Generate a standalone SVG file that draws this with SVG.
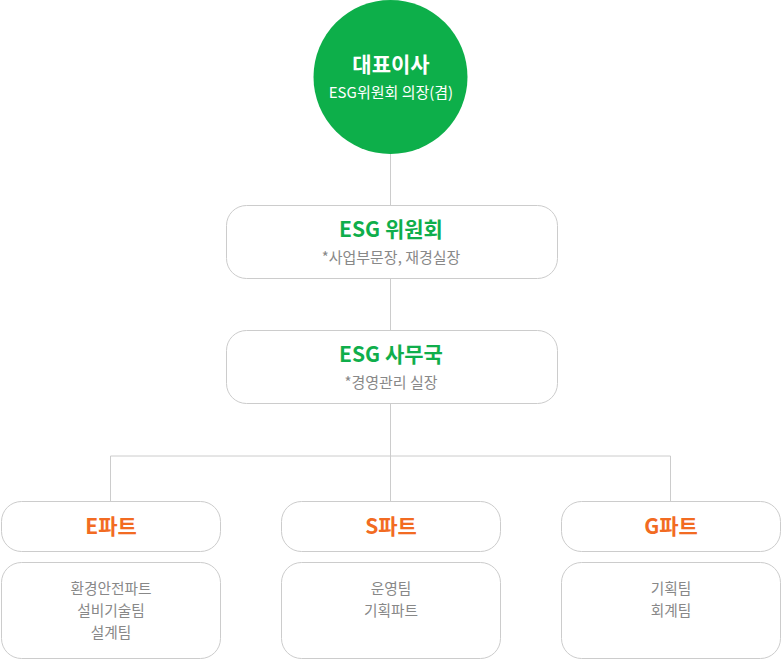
<svg xmlns="http://www.w3.org/2000/svg" width="781" height="659" viewBox="0 0 781 659">
<style>
.box{fill:#fff;stroke:#cccccc;stroke-width:1}
.ln{stroke:#cccccc;stroke-width:1;fill:none}
text{font-family:"Noto Sans CJK KR","Noto Sans",sans-serif;text-anchor:middle}
.t1{font-size:21px;font-weight:bold;fill:#0fae4b}
.sub{font-size:15px;fill:#888888}
.tm{font-size:14.7px;fill:#888888}
.part{font-size:21px;font-weight:bold;fill:#f26b22}
.w1{font-size:21px;font-weight:bold;fill:#ffffff}
.w2{font-size:15px;fill:#ffffff}
</style>
<rect width="781" height="659" fill="#ffffff"/>
<g id="connectors">
<path class="ln" d="M390.5 154V205M390.5 278V330M390.5 403V456M110.5 456H670.5M110.5 456V501M390.5 456V501M670.5 456V501"/>
</g>
<g id="ceo">
<circle cx="390.5" cy="77" r="77" fill="#0daf4a"/>
<text class="w1" x="391" y="72">대표이사</text>
<text class="w2" x="391" y="98">ESG위원회 의장(겸)</text>
</g>
<g id="committee">
<rect class="box" x="226.5" y="205.5" width="331" height="73" rx="20"/>
<text class="t1" x="391" y="237">ESG 위원회</text>
<text class="sub" x="391" y="263">*사업부문장, 재경실장</text>
</g>
<g id="office">
<rect class="box" x="226.5" y="330.5" width="331" height="73" rx="20"/>
<text class="t1" x="391" y="362">ESG 사무국</text>
<text class="sub" x="391" y="388">*경영관리 실장</text>
</g>
<g id="e-part">
<rect class="box" x="1.5" y="501.5" width="219" height="50" rx="20"/>
<text class="part" x="111" y="534">E파트</text>
</g>
<g id="e-teams">
<rect class="box" x="1.5" y="562.5" width="219" height="96" rx="20"/>
<text class="tm" x="111" y="594">환경안전파트</text>
<text class="tm" x="111" y="616">설비기술팀</text>
<text class="tm" x="111" y="638">설계팀</text>
</g>
<g id="s-part">
<rect class="box" x="281.5" y="501.5" width="219" height="50" rx="20"/>
<text class="part" x="391" y="534">S파트</text>
</g>
<g id="s-teams">
<rect class="box" x="281.5" y="562.5" width="219" height="96" rx="20"/>
<text class="tm" x="391" y="594">운영팀</text>
<text class="tm" x="391" y="616">기획파트</text>
</g>
<g id="g-part">
<rect class="box" x="561.5" y="501.5" width="219" height="50" rx="20"/>
<text class="part" x="671" y="534">G파트</text>
</g>
<g id="g-teams">
<rect class="box" x="561.5" y="562.5" width="219" height="96" rx="20"/>
<text class="tm" x="671" y="594">기획팀</text>
<text class="tm" x="671" y="616">회계팀</text>
</g>
</svg>
